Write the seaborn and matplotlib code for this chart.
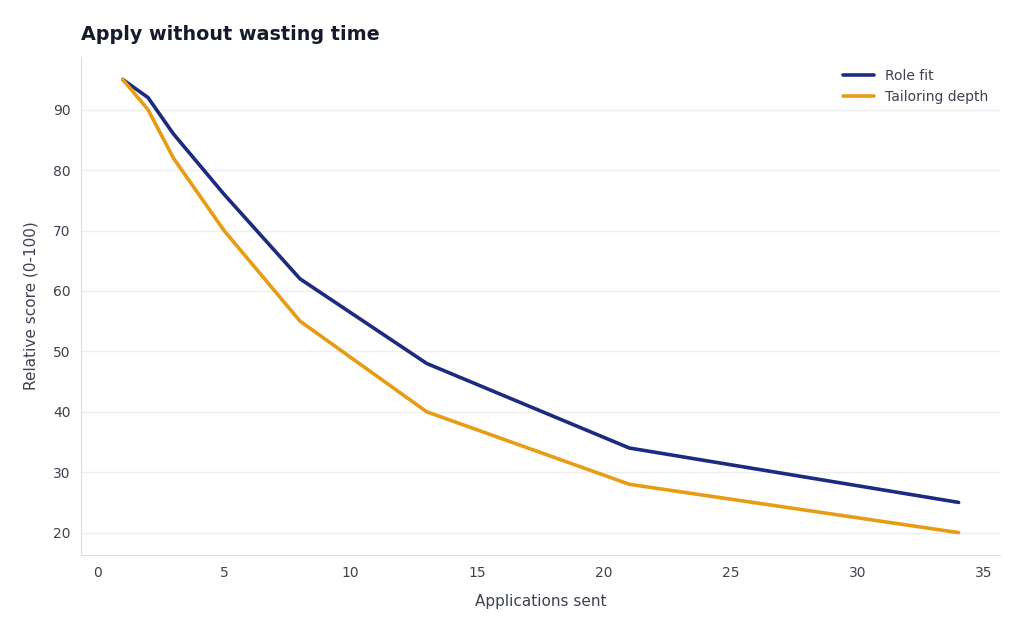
import matplotlib
matplotlib.use("Agg")
import matplotlib.pyplot as plt
import seaborn as sns
import pandas as pd

# Chart data
applications = [1, 2, 3, 5, 8, 13, 21, 34]
role_fit = [95, 92, 86, 76, 62, 48, 34, 25]
tailoring_depth = [95, 90, 82, 70, 55, 40, 28, 20]
series_names = ["Role fit", "Tailoring depth"]
colors = ["#1c2a80", "#e89c14"]

df = pd.DataFrame({
    "Applications sent": applications * 2,
    "score": role_fit + tailoring_depth,
    "series": [series_names[0]] * len(applications) + [series_names[1]] * len(applications),
})

sns.set_style("white")
plt.rcParams["font.family"] = ["DejaVu Sans"]

fig = plt.figure(figsize=(10.24, 6.31), dpi=100)
ax = fig.add_axes([0.079, 0.120, 0.898, 0.790])

sns.lineplot(data=df, x="Applications sent", y="score", hue="series",
             palette=colors, linewidth=2.6, ax=ax)

text_col = "#3d4250"
ax.set_xlabel("Applications sent", fontsize=11, color=text_col, labelpad=10)
ax.set_ylabel("Relative score (0-100)", fontsize=11, color=text_col, labelpad=10)
ax.set_title("Apply without wasting time", loc="left", fontsize=13.8,
             fontweight="bold", color="#161b2b", pad=12)

ax.set_xticks([0, 5, 10, 15, 20, 25, 30, 35])
ax.set_yticks([20, 30, 40, 50, 60, 70, 80, 90])
ax.tick_params(axis="both", labelsize=10, colors=text_col, length=4, color="#c8c8c8")
for lab in ax.get_xticklabels() + ax.get_yticklabels():
    lab.set_color(text_col)

ax.grid(axis="y", color="#eeeeee", linewidth=1)
ax.set_axisbelow(True)
for side in ["top", "right"]:
    ax.spines[side].set_visible(False)
for side in ["left", "bottom"]:
    ax.spines[side].set_color("#dddddd")

leg = ax.legend(title=None, frameon=False, fontsize=10, loc="upper right",
                handlelength=2.2)
for t in leg.get_texts():
    t.set_color(text_col)

fig.savefig("out.png", dpi=100)
